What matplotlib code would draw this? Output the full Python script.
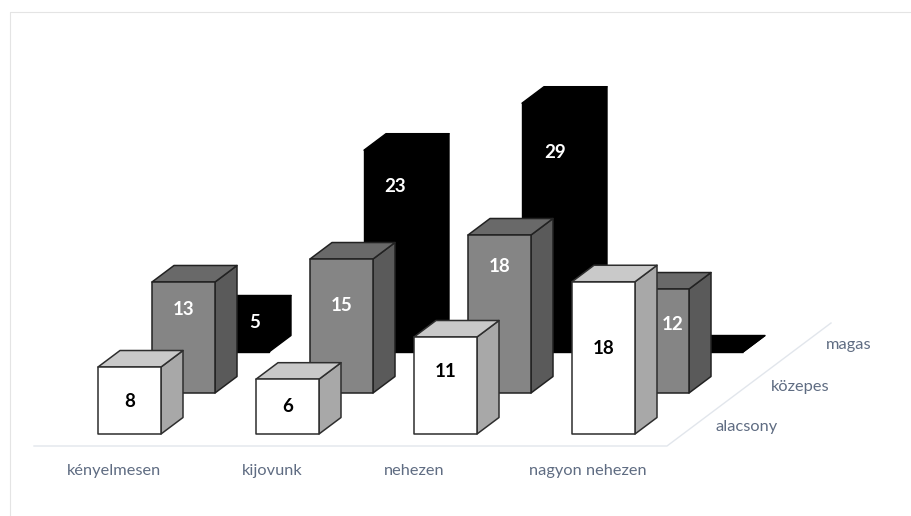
import matplotlib
matplotlib.use("Agg")
import matplotlib.pyplot as plt
from matplotlib.patches import Polygon, Rectangle

plt.rcParams['font.family'] = ['Lato', 'DejaVu Sans']

categories = ["kényelmesen", "kijovunk", "nehezen", "nagyon nehezen"]
rows = ["alacsony", "közepes", "magas"]
values_alacsony = [7.7, 6.3, 11.15, 17.5]
values_kozepes = [12.76, 15.4, 18.16, 11.95]
values_magas = [4.6, 23.2, 28.6, 0.0]
labels_alacsony = ["8", "6", "11", "18"]
labels_kozepes = ["13", "15", "18", "12"]
labels_magas = ["5", "23", "29", ""]

# layout of the oblique projection, in pixels
X0, Y0 = 98, 434
CAT_DX = 158
ROW_DX, ROW_DY = 54, -41
BAR_W = 63
DEPTH_DX, DEPTH_DY = 22, -16.5
UNIT = 8.7

STYLES = [
    dict(front="#ffffff", top="#c9c9c9", side="#a8a8a8", edge="#2e2e2e", lw=1.1, text="black"),
    dict(front="#858585", top="#696969", side="#5a5a5a", edge="#222222", lw=1.1, text="white"),
    dict(front="#000000", top="#000000", side="#000000", edge="#000000", lw=1.0, text="white"),
]
# label placement: fraction of the front face height, horizontal shift
LABEL_FRAC = [[0.49, 0.51, 0.64, 0.56], [0.75, 0.65, 0.80, 0.66], [0.73, 0.82, 0.80, 0]]
LABEL_SHIFT = [[0, 0, 0, 0], [0, 0, 0, 15], [17, 0, 2, 0]]

fig = plt.figure(figsize=(9.12, 5.16), dpi=100)
ax = fig.add_axes([0, 0, 1, 1])
ax.set_xlim(0, 912)
ax.set_ylim(516, 0)
ax.axis("off")

ax.plot([10.5, 10.5, 912], [516, 11.5, 11.5], color="#e4e4e4", lw=0.8, zorder=0)
ax.plot([34, 667, 831], [446, 446, 323], color="#e2e6ec", lw=1.0, zorder=1)

series = [values_alacsony, values_kozepes, values_magas]
texts = [labels_alacsony, labels_kozepes, labels_magas]


def draw_bar(cat, row, value, z):
    s = STYLES[row]
    x = X0 + cat * CAT_DX + row * ROW_DX
    base = Y0 + row * ROW_DY
    top = base - value * UNIT
    r, t = x + BAR_W, top
    dx, dy = DEPTH_DX, DEPTH_DY
    kw = dict(ec=s["edge"], lw=s["lw"], joinstyle="round", zorder=z)
    ax.add_patch(Polygon([(r, base), (r + dx, base + dy), (r + dx, t + dy), (r, t)], fc=s["side"], **kw))
    ax.add_patch(Polygon([(x, t), (r, t), (r + dx, t + dy), (x + dx, t + dy)], fc=s["top"], **kw))
    ax.add_patch(Rectangle((x, t), BAR_W, base - t, fc=s["front"], **kw))
    label = texts[row][cat]
    if label:
        ax.text(x + BAR_W / 2 + LABEL_SHIFT[row][cat], base - (base - t) * LABEL_FRAC[row][cat], label,
                ha="center", va="center", fontsize=13.5, fontweight="bold", color=s["text"], zorder=50)


z = 2
for row in (2, 1, 0):
    for cat in range(len(categories)):
        draw_bar(cat, row, series[row][cat], z)
        z += 1

TEXT_COLOR = "#5f6c82"
for name, cx in zip(categories, (114, 272, 414, 588)):
    ax.text(cx, 471, name, ha="center", va="center", fontsize=11.8, color=TEXT_COLOR)
for name, (cx, cy) in zip(rows, ((747, 427), (800, 387), (849, 345))):
    ax.text(cx, cy, name, ha="center", va="center", fontsize=11.8, color=TEXT_COLOR)

fig.savefig("out.png", dpi=100)
